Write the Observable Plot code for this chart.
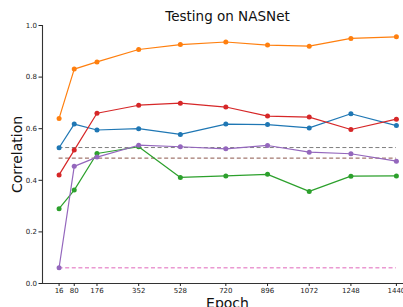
<!DOCTYPE html>
<html>
<head>
<meta charset="utf-8">
<script src="https://cdn.jsdelivr.net/npm/d3@7"></script>
<script src="https://cdn.jsdelivr.net/npm/@observablehq/plot@0.6"></script>
<style>
  html, body { margin: 0; padding: 0; background: #fff; overflow: hidden; }
  svg { display: block; }
</style>
</head>
<body>
<div id="chart"></div>
<script>
const epochs = [16, 80, 176, 352, 528, 720, 896, 1072, 1248, 1440];
const orangeVals = [0.640, 0.831, 0.859, 0.907, 0.926, 0.936, 0.924, 0.920, 0.950, 0.956];
const redVals    = [0.421, 0.517, 0.660, 0.691, 0.699, 0.684, 0.649, 0.645, 0.597, 0.637];
const blueVals   = [0.526, 0.618, 0.595, 0.600, 0.578, 0.618, 0.616, 0.603, 0.658, 0.612];
const purpleVals = [0.061, 0.454, 0.490, 0.536, 0.530, 0.522, 0.535, 0.509, 0.503, 0.474];
const greenVals  = [0.290, 0.362, 0.504, 0.530, 0.411, 0.417, 0.423, 0.357, 0.416, 0.417];
const grayBaseline = 0.527;
const brownBaseline = 0.486;
const pinkBaseline = 0.061;
const yTicks = [0, 0.2, 0.4, 0.6, 0.8, 1.0];

const series = [
  {name: "blue", color: "#1f77b4", values: blueVals},
  {name: "orange", color: "#ff7f0e", values: orangeVals},
  {name: "green", color: "#2ca02c", values: greenVals},
  {name: "red", color: "#d62728", values: redVals},
  {name: "purple", color: "#9467bd", values: purpleVals}
];
const baselines = [
  {value: grayBaseline, color: "#7f7f7f", width: 1},
  {value: brownBaseline, color: "#8c564b", width: 1},
  {value: pinkBaseline, color: "#e377c2", width: 1.5, opacity: 0.75}
];

const marks = [];
for (const b of baselines) {
  marks.push(Plot.ruleY([b.value], {x1: epochs[0], x2: epochs[epochs.length - 1], stroke: b.color, strokeWidth: b.width, strokeOpacity: b.opacity ?? 1, strokeDasharray: "4,2.6"}));
}
for (const s of series) {
  const rows = epochs.map((e, i) => ({epoch: e, v: s.values[i]}));
  marks.push(Plot.line(rows, {x: "epoch", y: "v", stroke: s.color, strokeWidth: 1.2}));
  marks.push(Plot.dot(rows, {x: "epoch", y: "v", fill: s.color, r: 2.5}));
}
marks.push(Plot.ruleX([-54], {stroke: "#333", strokeWidth: 1.1}));
marks.push(Plot.ruleY([0], {stroke: "#333", strokeWidth: 1.1}));
marks.push(Plot.axisX({ticks: epochs, tickSize: 3, tickPadding: 2, fontSize: 7, label: null, tickFormat: d => String(d)}));
marks.push(Plot.axisY({ticks: yTicks, tickSize: 3.5, tickPadding: 2, fontSize: 7, label: null, tickFormat: d3.format(".1f")}));
marks.push(Plot.text(["Testing on NASNet"], {frameAnchor: "top", dx: 4.5, dy: -9, fontSize: 13.5, lineAnchor: "middle", textAnchor: "middle", fill: "#111"}));
marks.push(Plot.text(["Correlation"], {frameAnchor: "left", dx: -25, rotate: -90, fontSize: 14, lineAnchor: "middle", textAnchor: "middle", fill: "#111"}));
marks.push(Plot.text(["Epoch"], {frameAnchor: "bottom", dx: 4.5, dy: 20, fontSize: 14, lineAnchor: "middle", textAnchor: "middle", fill: "#111"}));

const chart = Plot.plot({
  width: 403,
  height: 307,
  marginLeft: 42,
  marginRight: 0,
  marginTop: 25,
  marginBottom: 24,
  style: {fontFamily: "DejaVu Sans", fontSize: "7px", color: "#222", background: "#fff", overflow: "visible"},
  x: {domain: [-54, 1470], range: [42, 403]},
  y: {domain: [0, 1]},
  marks
});
document.getElementById("chart").appendChild(chart);
</script>
</body>
</html>
